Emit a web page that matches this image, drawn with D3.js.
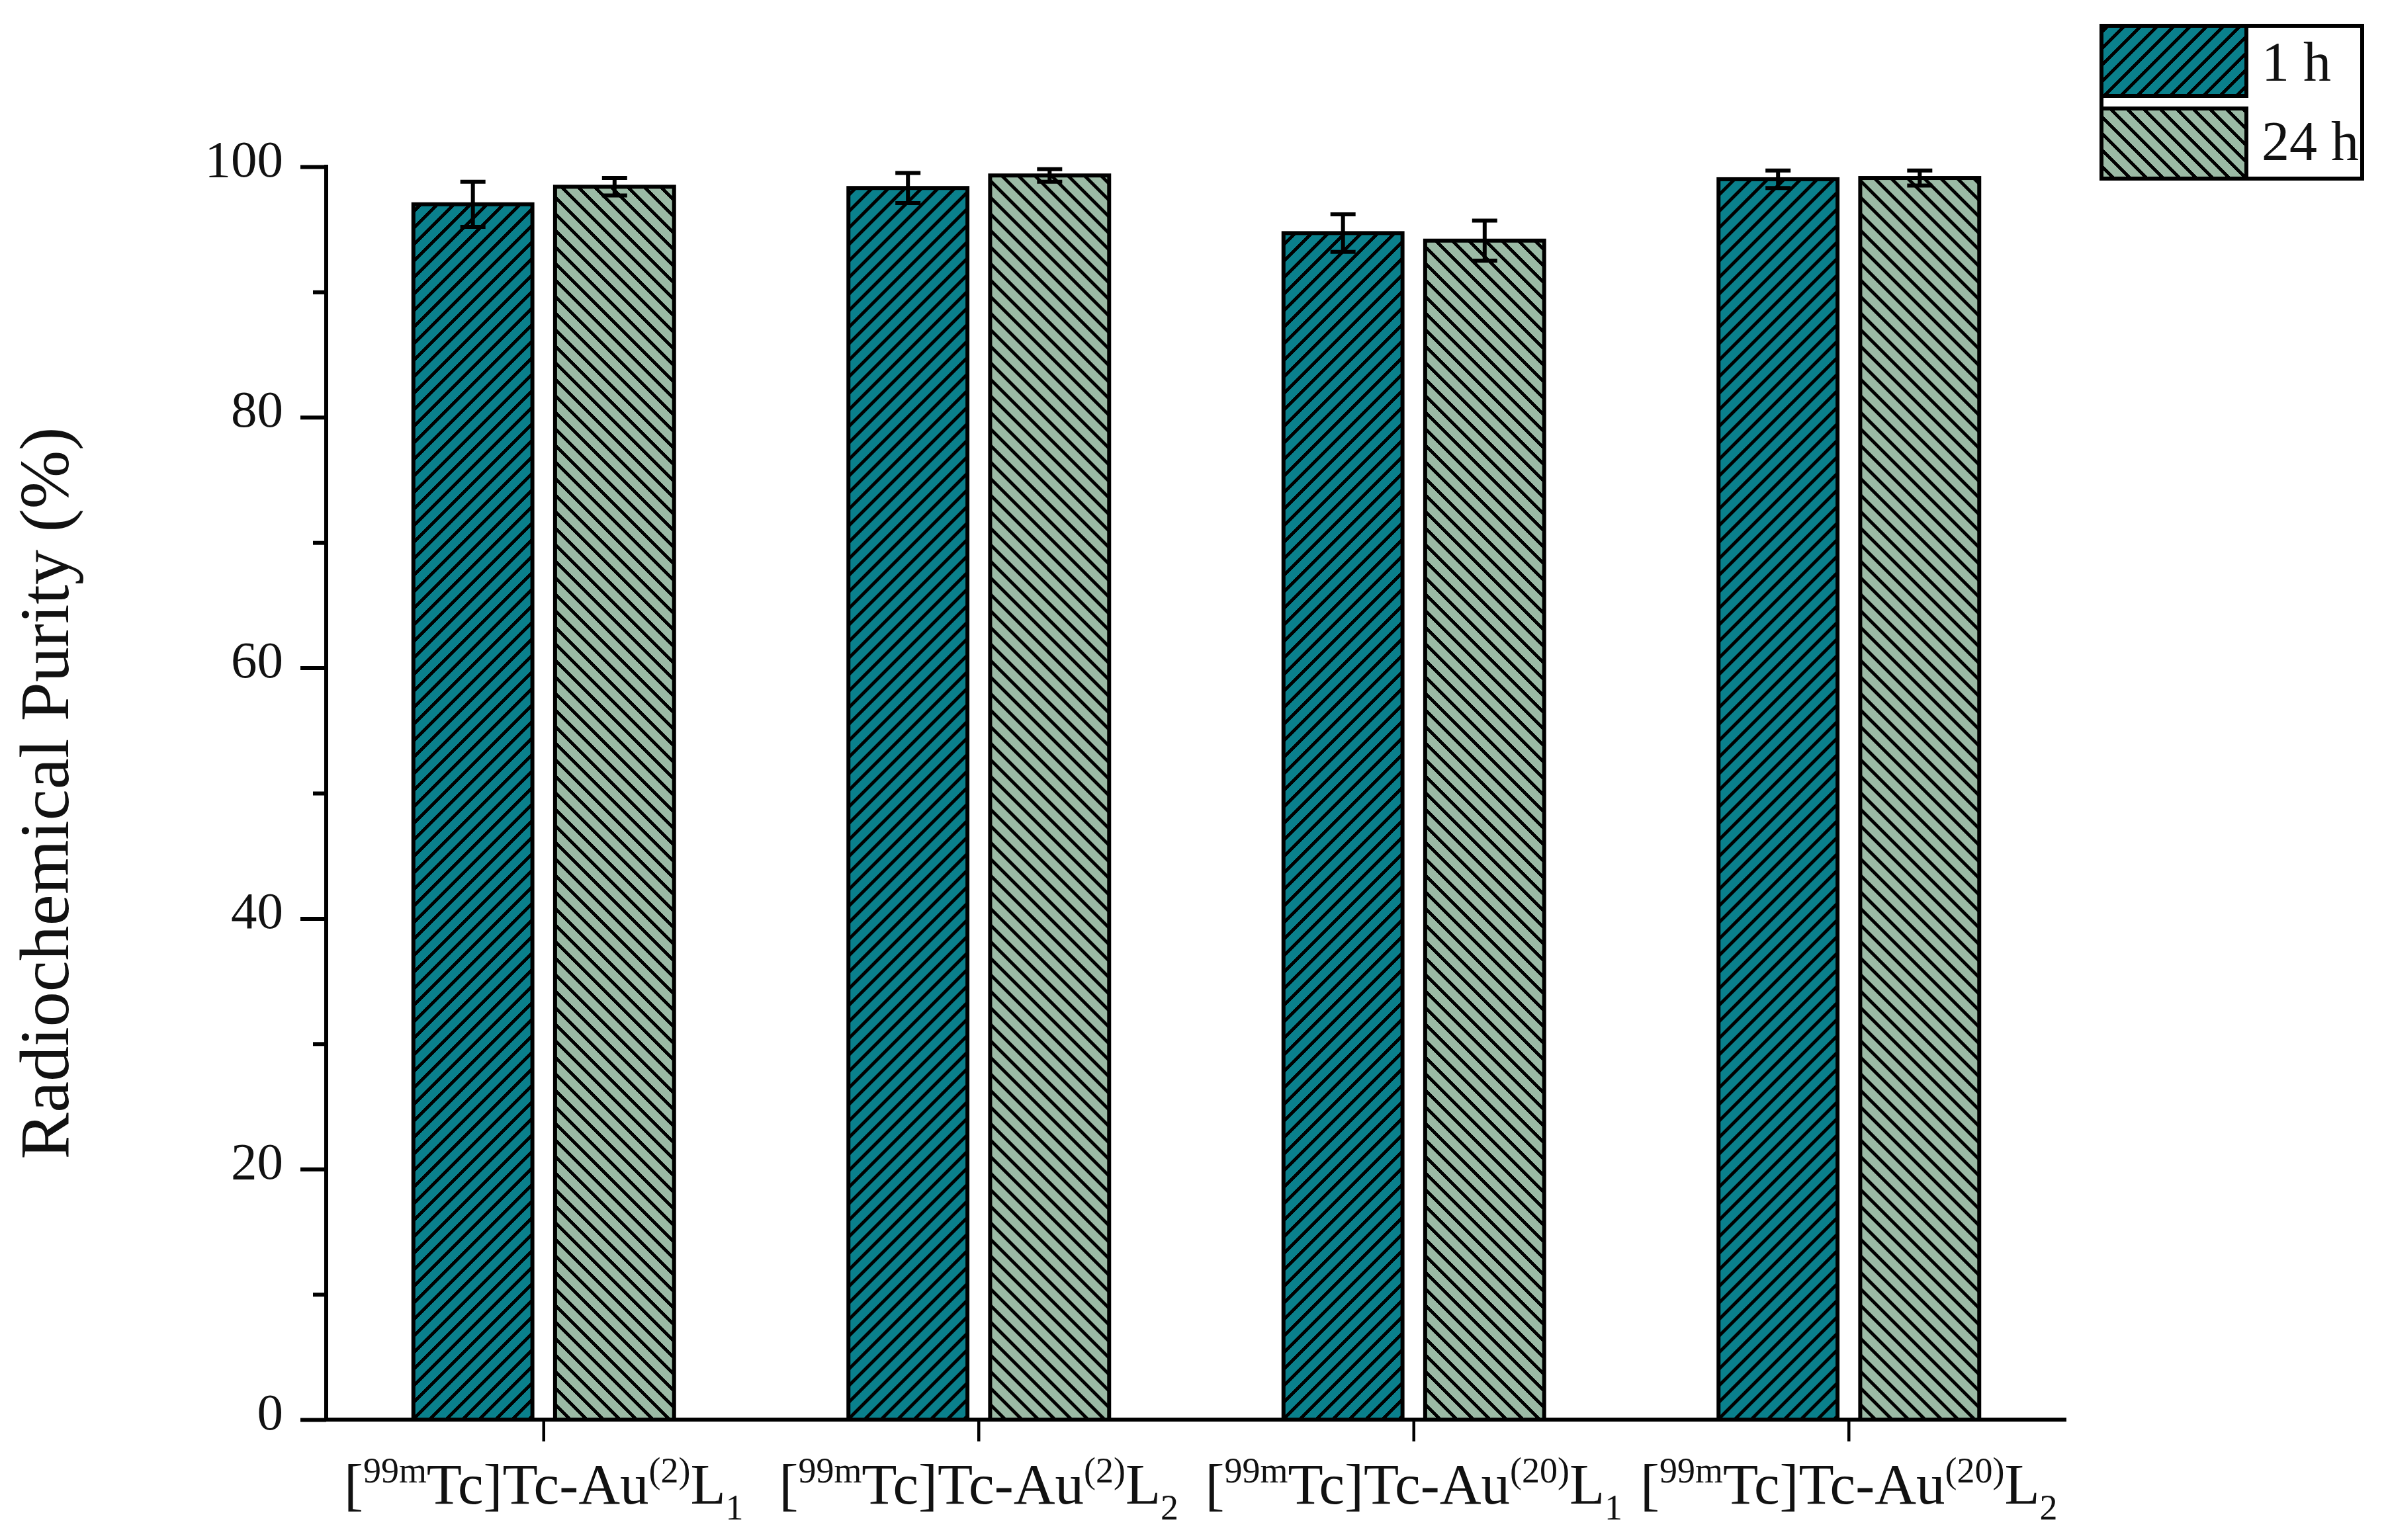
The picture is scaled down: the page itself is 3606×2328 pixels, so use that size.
<!DOCTYPE html>
<html>
<head>
<meta charset="utf-8">
<script src="https://cdn.jsdelivr.net/npm/d3@7"></script>
<style>
  html, body { margin: 0; padding: 0; background: #fff; }
  svg text { font-family: "Liberation Serif", "DejaVu Serif", serif; fill: #111; }
</style>
</head>
<body>
<div id="chart"></div>
<script>
// data
var groups = ["Au2L1", "Au2L2", "Au20L1", "Au20L2"];
var groupLabels = [
    { au: "(2)", l: "1" },
    { au: "(2)", l: "2" },
    { au: "(20)", l: "1" },
    { au: "(20)", l: "2" }
];
var series = ["1 h", "24 h"];
var purity1h = [97.0, 98.3, 94.7, 99.0];
var purity24h = [98.4, 99.3, 94.1, 99.1];
var err1h = [1.8, 1.2, 1.5, 0.7];
var err24h = [0.7, 0.5, 1.6, 0.6];
var yTicks = [0, 20, 40, 60, 80, 100];
var yMinorTicks = [10, 30, 50, 70, 90];

var colors = { "1 h": "#0A808C", "24 h": "#9BBAA5" };

var W = 3606, H = 2328;
var margin = { left: 493, right: 483, top: 252, bottom: 182 };
var width = W - margin.left - margin.right;
var height = H - margin.top - margin.bottom;

var svg = d3.select("#chart").append("svg")
    .attr("width", W)
    .attr("height", H);

// hatch patterns
var defs = svg.append("defs");
function hatch(id, color, dir) {
    var p = defs.append("pattern")
        .attr("id", id)
        .attr("patternUnits", "userSpaceOnUse")
        .attr("width", 25)
        .attr("height", 25);
    p.append("rect").attr("width", 25).attr("height", 25).attr("fill", color);
    var d = dir > 0
        ? "M-6.25,6.25 L6.25,-6.25 M0,25 L25,0 M18.75,31.25 L31.25,18.75"
        : "M-6.25,18.75 L6.25,31.25 M0,0 L25,25 M18.75,-6.25 L31.25,6.25";
    p.append("path").attr("d", d)
        .attr("stroke", "#000")
        .attr("stroke-width", 4.8)
        .attr("shape-rendering", "crispEdges");
}
hatch("hatch1", colors["1 h"], 1);
hatch("hatch24", colors["24 h"], -1);
var fills = { "1 h": "url(#hatch1)", "24 h": "url(#hatch24)" };

var g = svg.append("g")
    .attr("transform", "translate(" + margin.left + "," + margin.top + ")");

// scales
var x0 = d3.scaleBand().domain(groups).range([0, width]).padding(0);
var bw = x0.bandwidth();
var x1 = d3.scaleBand().domain(series)
    .range([bw / 2 - 197, bw / 2 + 197])
    .paddingInner(0.16);
var y = d3.scaleLinear().domain([0, 100]).range([height, 0]);

var rows = groups.map(function(gr, i) {
    return [
        { group: gr, s: "1 h", v: purity1h[i], e: err1h[i] },
        { group: gr, s: "24 h", v: purity24h[i], e: err24h[i] }
    ];
});

// bars
var gg = g.selectAll(".grp").data(rows).enter().append("g")
    .attr("class", "grp")
    .attr("transform", function(d, i) { return "translate(" + x0(groups[i]) + ",0)"; });

gg.selectAll("rect").data(function(d) { return d; }).enter().append("rect")
    .attr("x", function(d) { return x1(d.s); })
    .attr("width", x1.bandwidth())
    .attr("y", function(d) { return y(d.v); })
    .attr("height", function(d) { return y(0) - y(d.v); })
    .attr("fill", function(d) { return fills[d.s]; })
    .attr("stroke", "#000")
    .attr("stroke-width", 6);

// error bars
var eb = gg.selectAll(".err").data(function(d) { return d; }).enter().append("g")
    .attr("class", "err")
    .attr("stroke", "#000")
    .attr("stroke-width", 6);
eb.append("line")
    .attr("x1", function(d) { return x1(d.s) + x1.bandwidth() / 2; })
    .attr("x2", function(d) { return x1(d.s) + x1.bandwidth() / 2; })
    .attr("y1", function(d) { return y(d.v + d.e); })
    .attr("y2", function(d) { return y(d.v - d.e); });
[1, -1].forEach(function(sg) {
    eb.append("line")
        .attr("x1", function(d) { return x1(d.s) + x1.bandwidth() / 2 - 19; })
        .attr("x2", function(d) { return x1(d.s) + x1.bandwidth() / 2 + 19; })
        .attr("y1", function(d) { return y(d.v + sg * d.e); })
        .attr("y2", function(d) { return y(d.v + sg * d.e); });
});

// y axis
var yAxis = g.append("g").attr("class", "y axis")
    .call(d3.axisLeft(y).tickValues(yTicks).tickSize(39).tickPadding(26).tickFormat(d3.format("d")));
g.append("g").attr("class", "y minor")
    .call(d3.axisLeft(y).tickValues(yMinorTicks).tickSize(20).tickFormat(""));
g.selectAll(".y .domain").remove();
g.append("line")
    .attr("x1", 0).attr("x2", 0)
    .attr("y1", y(100) - 3).attr("y2", y(0) + 3)
    .attr("stroke", "#000").attr("stroke-width", 6);
g.selectAll(".y .tick line, .minor .tick line").attr("stroke", "#000").attr("stroke-width", 6);
yAxis.selectAll(".tick text")
    .attr("font-size", 79)
    .attr("font-family", "Liberation Serif")
    .attr("fill", "#111")
    .attr("dy", 14);

// x axis
var xAxis = g.append("g").attr("class", "x axis")
    .attr("transform", "translate(0," + height + ")")
    .call(d3.axisBottom(x0).tickSize(33).tickFormat(""));
xAxis.select(".domain").remove();
xAxis.selectAll(".tick line").attr("stroke", "#000").attr("stroke-width", 4.5);
g.append("line")
    .attr("x1", 0).attr("x2", width)
    .attr("y1", height).attr("y2", height)
    .attr("stroke", "#000").attr("stroke-width", 6);

// x labels with super/subscripts
var labelFont = 87;
xAxis.selectAll(".tick").each(function(d, i) {
    var lab = groupLabels[i];
    var t = d3.select(this).append("text")
        .attr("y", 127)
        .attr("text-anchor", "middle")
        .attr("font-size", labelFont);
    t.append("tspan").text("[");
    t.append("tspan").attr("font-size", labelFont * 0.62).attr("dy", -32).text("99m");
    t.append("tspan").attr("dy", 32).text("Tc]Tc-Au");
    t.append("tspan").attr("font-size", labelFont * 0.62).attr("dy", -32).text(lab.au);
    t.append("tspan").attr("dy", 32).text("L");
    t.append("tspan").attr("font-size", labelFont * 0.62).attr("dy", 24).text(lab.l);
});

// y label
svg.append("text")
    .attr("transform", "translate(103," + (margin.top + height / 2) + ") rotate(-90)")
    .attr("text-anchor", "middle")
    .attr("font-size", 106)
    .text("Radiochemical Purity (%)");

// legend
var lg = svg.append("g").attr("class", "legend");
lg.append("rect")
    .attr("x", 3176).attr("y", 39).attr("width", 394).attr("height", 231)
    .attr("fill", "#fff").attr("stroke", "#000").attr("stroke-width", 6);
series.forEach(function(s, i) {
    lg.append("rect")
        .attr("x", 3176).attr("y", 39 + i * 125)
        .attr("width", 219).attr("height", 106)
        .attr("fill", fills[s])
        .attr("stroke", "#000").attr("stroke-width", 6);
    lg.append("text")
        .attr("x", 3418).attr("y", 122 + i * 120)
        .attr("font-size", 84)
        .text(s);
});
</script>
</body>
</html>
